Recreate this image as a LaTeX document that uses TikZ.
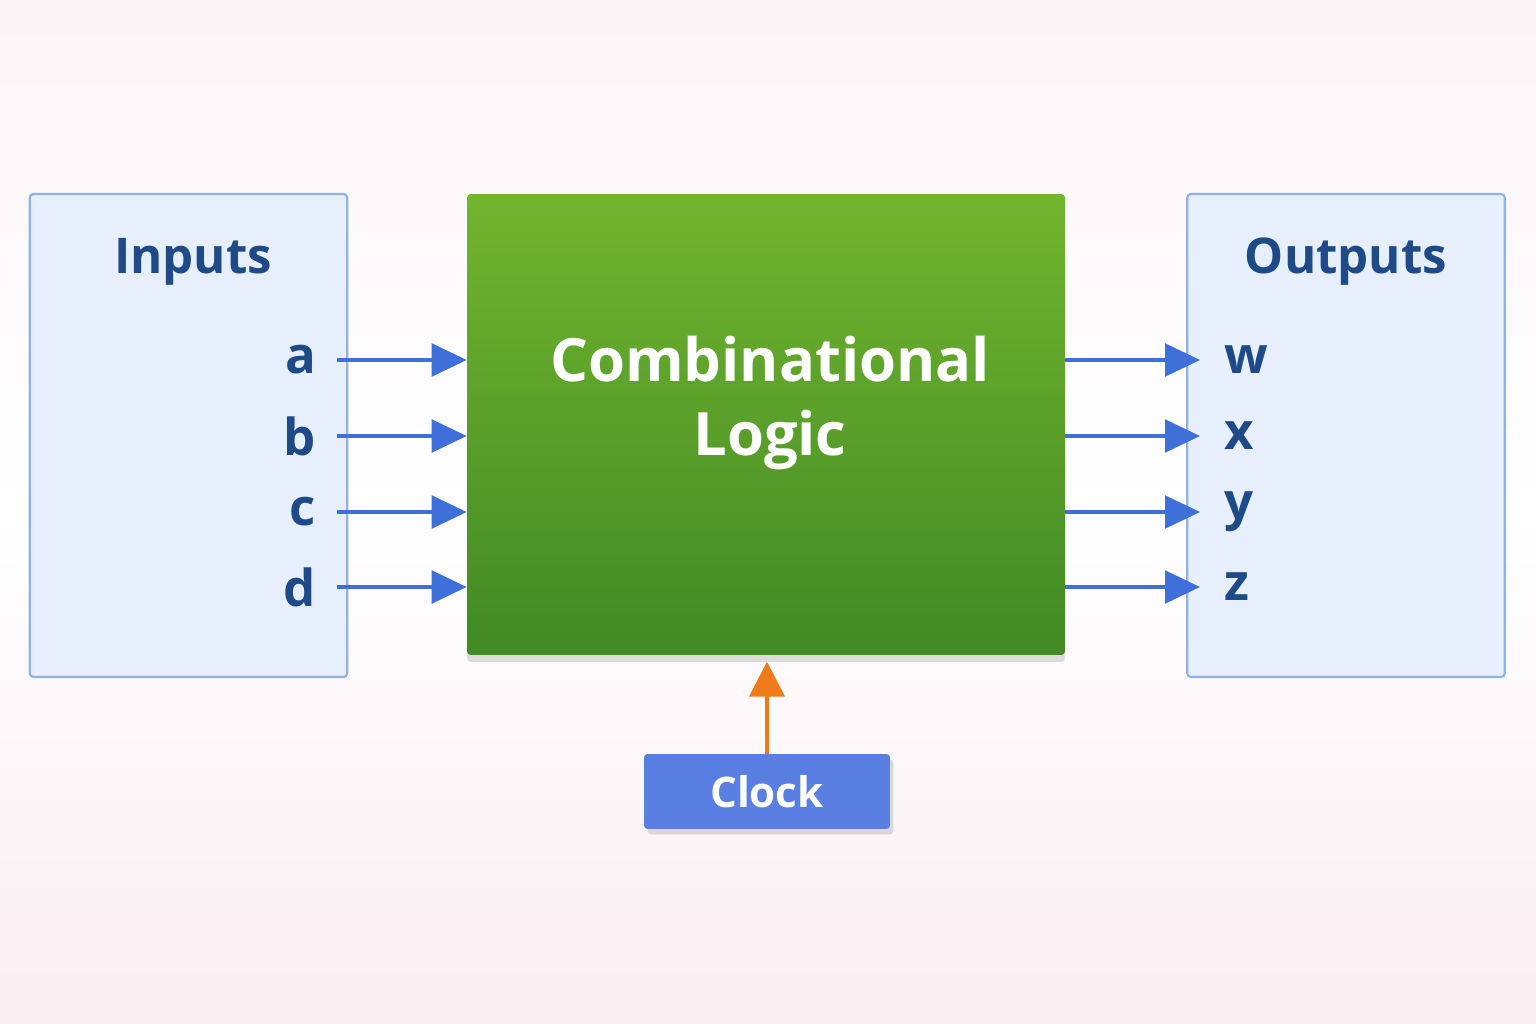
\documentclass[tikz,border=0pt]{standalone}
\usepackage{fontspec}
\setmainfont{Open Sans}
\usetikzlibrary{positioning,shadows,arrows.meta}
\definecolor{bgpink}{HTML}{FAEEF2}
\definecolor{panelblue}{HTML}{E6EFFB}
\definecolor{panelline}{HTML}{8FB2E8}
\definecolor{textblue}{HTML}{1E4A87}
\definecolor{wireblue}{HTML}{3F6FD8}
\definecolor{greentop}{HTML}{72B52E}
\definecolor{greenbot}{HTML}{418A25}
\definecolor{clockblue}{HTML}{5A7FE3}
\definecolor{clockorange}{HTML}{EE7A1A}
\tikzset{
	panel/.style={rectangle, rounded corners=2pt, draw=panelline, line width=1.2pt,
		fill=panelblue, minimum width=6.35cm, minimum height=9.66cm},
	logik/.style={rectangle, rounded corners=2pt, top color=greentop, bottom color=greenbot,
		minimum width=11.96cm, minimum height=9.22cm,
		drop shadow={opacity=0.25, shadow xshift=0pt, shadow yshift=-4pt}},
	logiktext/.style={text=white, font=\bfseries\fontsize{34}{44}\selectfont, align=center},
	titel/.style={text=textblue, font=\bfseries\fontsize{28}{34}\selectfont},
	signal/.style={text=textblue, font=\bfseries\fontsize{29}{34}\selectfont},
	takt/.style={rectangle, rounded corners=2pt, fill=clockblue, text=white,
		font=\bfseries\fontsize{24}{30}\selectfont, minimum width=4.92cm, minimum height=1.5cm,
		drop shadow={opacity=0.25, shadow xshift=2pt, shadow yshift=-3pt}},
	wire/.style={wireblue, line width=2.2pt, -{Triangle[length=0.7cm,width=0.65cm]}}
}
\begin{document}
\begin{tikzpicture}[x=0.02cm,y=-0.02cm]
	\shade[top color=bgpink!60, bottom color=bgpink, middle color=white] (0,0) rectangle (1536,1024);
	\useasboundingbox (0,0) rectangle (1536,1024);
	
	\node[panel] (inputs) at (188.5,435.5) {};
	\node[panel] (outputs) at (1346,435.5) {};
	\node[logik] (logic) at (766,424.5) {};
	\node[logiktext] (logictext) at (770,403) {Combinational\\[-2pt]Logic};
	\node[takt] (clock) at (767,791.5) {Clock};
	
	\node[titel] (intitle) at (193,262) {Inputs};
	\node[titel] (outtitle) at (1346,262) {Outputs};
	
	% signals
	\foreach \nm/\y in {a/360,b/436,c/512,d/587}{
		\node[signal, anchor=east] (in\nm) at (322,\y) {\nm};
		\draw[wire] (337,\y) -- (logic.west |- 0,\y);
	}
	\foreach \nm/\y in {w/360,x/436,y/512,z/587}{
		\node[signal, anchor=west] (out\nm) at (1218,\y) {\nm};
		\draw[wire] (logic.east |- 0,\y) -- (1200,\y);
	}
	\draw[clockorange, line width=2.5pt, -{Triangle[length=0.7cm,width=0.7cm]}]
		(clock.north) -- ++(0,-92);
\end{tikzpicture}
\end{document}
